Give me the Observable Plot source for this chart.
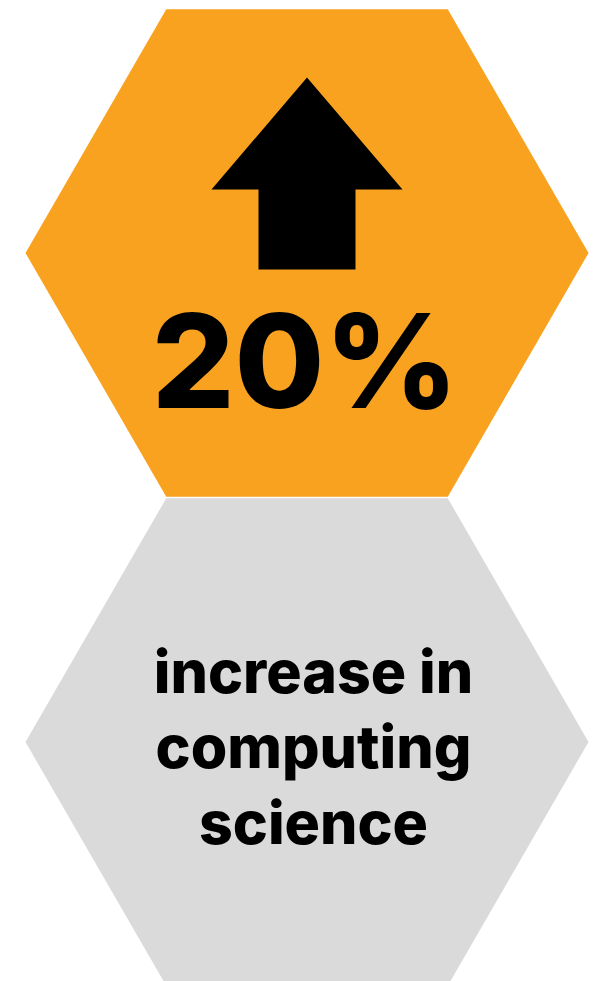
<!DOCTYPE html>
<html>
<head>
<meta charset="utf-8">
<script src="https://cdn.jsdelivr.net/npm/d3@7"></script>
<script src="https://cdn.jsdelivr.net/npm/@observablehq/plot@0.6"></script>
<style>
  html, body { margin: 0; padding: 0; background: #ffffff; }
  #chart svg { display: block; }
</style>
</head>
<body>
<div id="chart"></div>
<script>
// ---- data ----
const changeValue = [20];                 // percent increase
const changeDirection = ["up"];
const labelLines = ["increase in", "computing", "science"];
const panels = ["value", "label"];
const panelColors = ["#F9A21F", "#DADADA"];

// ---- layout (geometry, not data) ----
const W = 598, H = 981;
const hexR = 281.5;                       // centre-to-vertex
const hexCx = 306.5;
const hexCy = [252.5, 741.5];

function hexagon(cx, cy, r, id) {
  return d3.range(7).map(k => {
    const a = (k % 6) * Math.PI / 3;
    return {id, x: cx + r * Math.cos(a), y: cy + r * Math.sin(a)};
  });
}
const hexPts = panels.flatMap((p, i) => hexagon(hexCx, hexCy[i], hexR, p));

// up arrow built from a centre and sizes
function arrow(cx, top, headW, headH, shaftW, shaftH) {
  const b = top + headH;
  return [
    [cx, top], [cx + headW / 2, b], [cx + shaftW / 2, b], [cx + shaftW / 2, b + shaftH],
    [cx - shaftW / 2, b + shaftH], [cx - shaftW / 2, b], [cx - headW / 2, b], [cx, top]
  ].map(([x, y]) => ({x, y}));
}
const arrowPts = changeDirection[0] === "up" ? arrow(306.5, 77, 191, 112, 97, 80) : [];

const chart = Plot.plot({
  width: W,
  height: H,
  margin: 0,
  x: {domain: [0, W], range: [0, W], axis: null},
  y: {domain: [0, H], range: [0, H], axis: null},
  marks: [
    Plot.line(hexPts, {x: "x", y: "y", z: "id", fill: d => panelColors[panels.indexOf(d.id)], stroke: null, curve: "linear"}),
    Plot.line(arrowPts, {x: "x", y: "y", fill: "#000000", stroke: null}),
    Plot.text(changeValue, {
      x: () => 304.5, y: () => 407,
      text: d => `${d}%`,
      lineAnchor: "bottom", textAnchor: "middle",
      fontFamily: "Inter", fontWeight: 800, fontSize: 130, fill: "#000000"
    }),
    Plot.text([labelLines.join("\n")], {
      x: () => 313, y: () => 843,
      text: d => d,
      lineAnchor: "bottom", textAnchor: "middle", lineHeight: 75.5 / 59,
      fontFamily: "Inter", fontWeight: 800, fontSize: 59, fill: "#000000"
    })
  ]
});
document.getElementById("chart").appendChild(chart);
</script>
</body>
</html>
